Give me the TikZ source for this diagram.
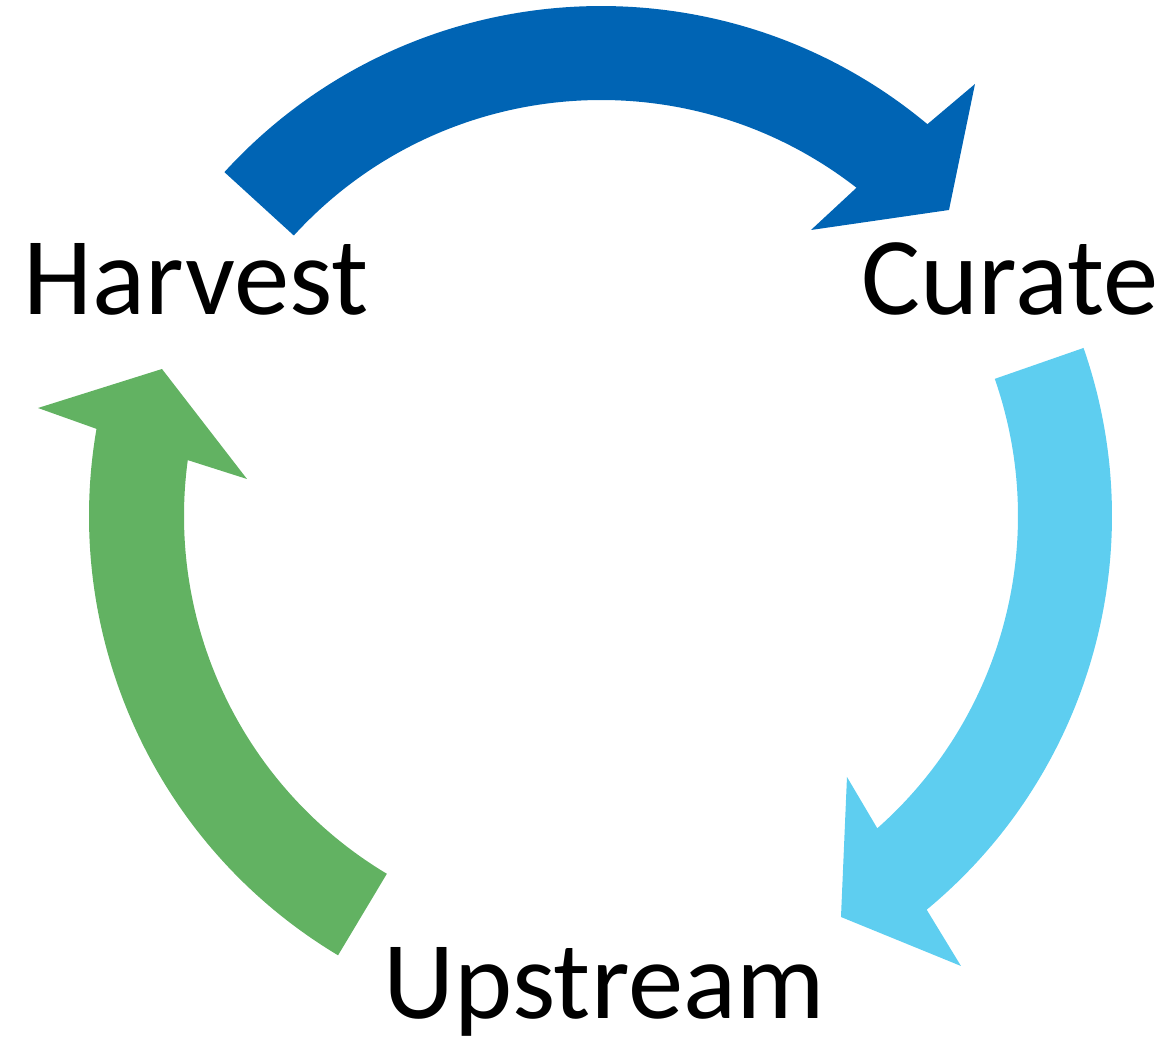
\documentclass[tikz,border=0pt]{standalone}
\usepackage{fontspec}
\setmainfont{Carlito}
\usepackage{tikz}
\usetikzlibrary{calc}
\definecolor{harvestblue}{HTML}{0064B4}
\definecolor{curatecyan}{HTML}{5ECEF0}
\definecolor{upstreamgreen}{HTML}{62B262}
\tikzset{cyclelabel/.style={font=\fontsize{31.5}{38}\selectfont,anchor=base,inner sep=0pt}}

\begin{document}
\begin{tikzpicture}[x=0.1mm,y=0.1mm]
  \useasboundingbox (-601,-528) rectangle (569,516);

  % harvest -> curate
  \fill[harvestblue] (137.6:51mm) arc[start angle=137.6,end angle=50.2,radius=51mm]
    -- (374,432) -- (348,306) -- (210,286)
    -- (52.1:41.6mm) arc[start angle=52.1,end angle=137.6,radius=41.6mm] -- cycle;

  % curate -> upstream
  \fill[curatecyan] (19.2:51.1mm) arc[start angle=19.2,end angle=-50.4,radius=51.1mm]
    -- (360,-450) -- (240,-401) -- (246,-261)
    -- (-48.5:41.7mm) arc[start angle=-48.5,end angle=19.2,radius=41.7mm] -- cycle;

  % upstream -> harvest
  \fill[upstreamgreen] (239.1:51.2mm) arc[start angle=239.1,end angle=170.2,radius=51.2mm]
    -- (-563,108) -- (-439,147) -- (-354,37)
    -- (172.3:41.7mm) arc[start angle=172.3,end angle=239.1,radius=41.7mm] -- cycle;

  \node[cyclelabel] (harvest) at (-405,201) {Harvest};
  \node[cyclelabel] (curate) at (409,201) {Curate};
  \node[cyclelabel] (upstream) at (3,-503) {Upstream};
\end{tikzpicture}
\end{document}
